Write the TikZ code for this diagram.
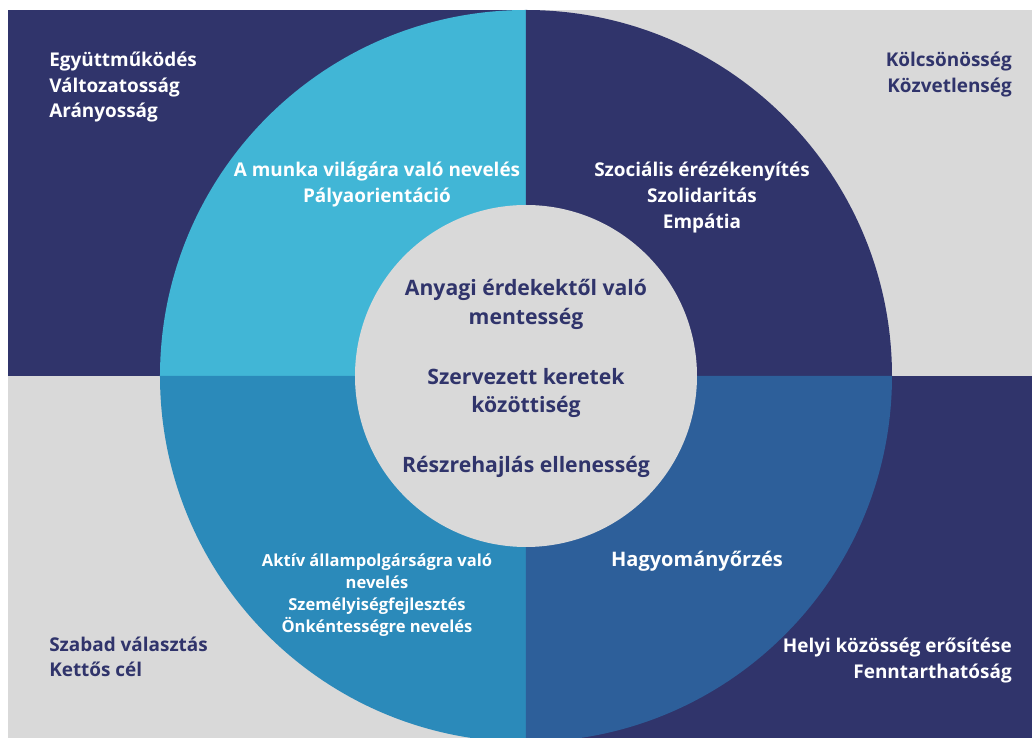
\documentclass[tikz,border=0pt]{standalone}
\usepackage{fontspec}
\setmainfont{Open Sans}
\definecolor{navy}{HTML}{30346B}
\definecolor{skyblue}{HTML}{41B6D6}
\definecolor{midblue}{HTML}{2B8ABA}
\definecolor{steelblue}{HTML}{2D5F9A}
\definecolor{paper}{HTML}{D9D9D9}

\tikzset{
    corner text/.style={
        inner sep=0pt,
        font=\bfseries\fontsize{14.2}{17}\selectfont
    },
    ring text/.style={
        inner sep=0pt,text=white,anchor=base,
        font=\bfseries\fontsize{14.2}{17}\selectfont
    },
    core text/.style={
        inner sep=0pt,text=navy,anchor=base,
        font=\bfseries\fontsize{15.9}{19}\selectfont
    }
}

\begin{document}
\begin{tikzpicture}[x=.75pt,y=.75pt]
        \useasboundingbox (-526,-362) rectangle (506,376);
        \fill[white] (-526,-362) rectangle (506,376);
        % quadrants
        \fill[navy] (-518,0) rectangle (0,366);
        \fill[paper] (0,0) rectangle (506,366);
        \fill[paper] (-518,-362) rectangle (0,0);
        \fill[navy] (0,-362) rectangle (506,0);
        % ring
        \begin{scope}
            \clip (-518,-362) rectangle (506,366);
            \fill[skyblue] (0,0) -- (-366,0) arc[start angle=180,end angle=90,radius=366] -- cycle;
            \fill[navy] (0,0) -- (0,366) arc[start angle=90,end angle=0,radius=366] -- cycle;
            \fill[midblue] (0,0) -- (0,-366) arc[start angle=270,end angle=180,radius=366] -- cycle;
            \fill[steelblue] (0,0) -- (366,0) arc[start angle=0,end angle=-90,radius=366] -- cycle;
        \end{scope}
        \fill[paper] (0,0) circle[radius=171];
        % corners
        \foreach \y/\txt [count=\k] in {309/Együttműködés,283.5/Változatosság,258/Arányosság}
            \node[corner text,text=white,anchor=base west] (tl\k) at (-477,\y) {\txt};
        \foreach \y/\txt [count=\k] in {309/Kölcsönösség,283.5/Közvetlenség}
            \node[corner text,text=navy,anchor=base east] (tr\k) at (486,\y) {\txt};
        \foreach \y/\txt [count=\k] in {-276/Szabad választás,-301/Kettős cél}
            \node[corner text,text=navy,anchor=base west] (bl\k) at (-477,\y) {\txt};
        \foreach \y/\txt [count=\k] in {-277/Helyi közösség erősítése,-303/Fenntarthatóság}
            \node[corner text,text=white,anchor=base east] (br\k) at (486,\y) {\txt};
        % ring labels
        \foreach \y/\txt [count=\k] in {199/A munka világára való nevelés,173.5/Pályaorientáció}
            \node[ring text] (work\k) at (-149,\y) {\txt};
        \foreach \y/\txt [count=\k] in {199/Szociális érézékenyítés,173/Szolidaritás,147/Empátia}
            \node[ring text] (social\k) at (176,\y) {\txt};
        \foreach \y/\txt [count=\k] in {-191/Aktív állampolgárságra való,-213/nevelés,-235/Személyiségfejlesztés,-257/Önkéntességre nevelés}
            \node[ring text,font=\bfseries\fontsize{12.4}{15}\selectfont] (civic\k) at (-149,\y) {\txt};
        \node[ring text,font=\bfseries\fontsize{15}{18}\selectfont] (tradition) at (171,-191) {Hagyományőrzés};
        % core
        \foreach \y/\txt [count=\k] in {80/Anyagi érdekektől való,51/mentesség,-9/Szervezett keretek,-37/közöttiség,-97/Részrehajlás ellenesség}
            \node[core text] (core\k) at (0,\y) {\txt};
\end{tikzpicture}
\end{document}
